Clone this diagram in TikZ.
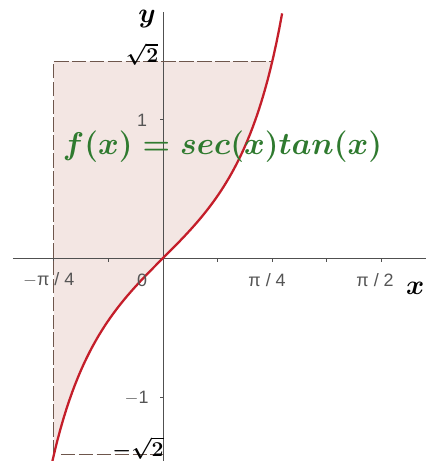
\RequirePackage{fix-cm}
\documentclass[tikz,border=0pt]{standalone}
\usepackage{fontspec}
\newfontfamily\ggbfont{Liberation Sans}
\usepackage{tikz}
\usetikzlibrary{positioning,calc}
\definecolor{curvered}{HTML}{C41E2A}
\definecolor{areafill}{HTML}{F3E6E3}
\definecolor{edgebrown}{HTML}{6E564C}
\definecolor{labelgreen}{HTML}{2F7A2F}
\definecolor{axisgray}{HTML}{505050}
\definecolor{tickgray}{HTML}{555555}

\begin{document}
\begin{tikzpicture}[x=3cm, y=3cm,
  ticklbl/.style={font=\ggbfont\fontsize{11}{11}\selectfont, text=tickgray, inner sep=0pt},
  axislbl/.style={font=\fontsize{17}{17}\selectfont\boldmath, inner sep=0pt},
  bound/.style={edgebrown, dash pattern=on 9pt off 2pt, line width=0.6pt}]
  \useasboundingbox (-1.173,-1.460) rectangle (1.892,1.856);

  % shaded area left of the curve
  \fill[areafill] (-pi/4,-1.4142) -- (-pi/4,1.4142) -- (pi/4,1.4142)
    -- plot[domain=pi/4:-pi/4, samples=60] (\x,{tan(\x r)/cos(\x r)}) -- cycle;

  % axes
  \draw[axisgray, line width=0.6pt] (-1.08,0) -- (1.892,0);
  \draw[axisgray, line width=0.6pt] (0,-1.460) -- (0,1.77);
  \foreach \k in {-2,...,4}
    \draw[axisgray, line width=0.5pt] ({\k*pi/8},0) -- ++(0,-0.025);
  \foreach \v in {-1,1}
    \draw[axisgray, line width=0.5pt] (0,\v) -- ++(-0.025,0);

  % bounds of the area
  \draw[bound] (-pi/4,-1.4142) -- (-pi/4,1.4142);
  \draw[bound] (-pi/4,1.4142) -- (pi/4,1.4142);
  \draw[bound] (-pi/4+0.05,-1.4142) -- (0,-1.4142);

  % the curve
  \draw[curvered, line width=1.4pt] plot[domain=-0.80:0.857, samples=80] (\x,{tan(\x r)/cos(\x r)});

  % tick labels
  \node[ticklbl] (lmq) at (-0.822,-0.158) {$-$π / 4};
  \node[ticklbl] (lzero) at (-0.15,-0.158) {0};
  \node[ticklbl] (lq) at (0.748,-0.158) {π / 4};
  \node[ticklbl] (lh) at (1.525,-0.158) {π / 2};
  \node[ticklbl] (lone) at (-0.151,0.99) {1};
  \node[ticklbl] (lmone) at (-0.19,-1.01) {$-$1};
  \node[font=\fontsize{13}{13}\selectfont\boldmath, inner sep=0pt] (lsq) at (-0.151,1.465) {$\sqrt{2}$};
  \node[font=\fontsize{13}{13}\selectfont\boldmath, inner sep=0pt] (lmsq) at (-0.18,-1.367) {$-\sqrt{2}$};

  % axis names
  \node[axislbl] (ylbl) at (-0.115,1.72) {$y$};
  \node[axislbl] (xlbl) at (1.813,-0.216) {$x$};

  % formula
  \node[font=\fontsize{19.3}{19.3}\selectfont\boldmath, text=labelgreen, inner sep=0pt] (form) at (0.428,0.80)
    {$f(x) = sec(x)tan(x)$};
\end{tikzpicture}
\end{document}
